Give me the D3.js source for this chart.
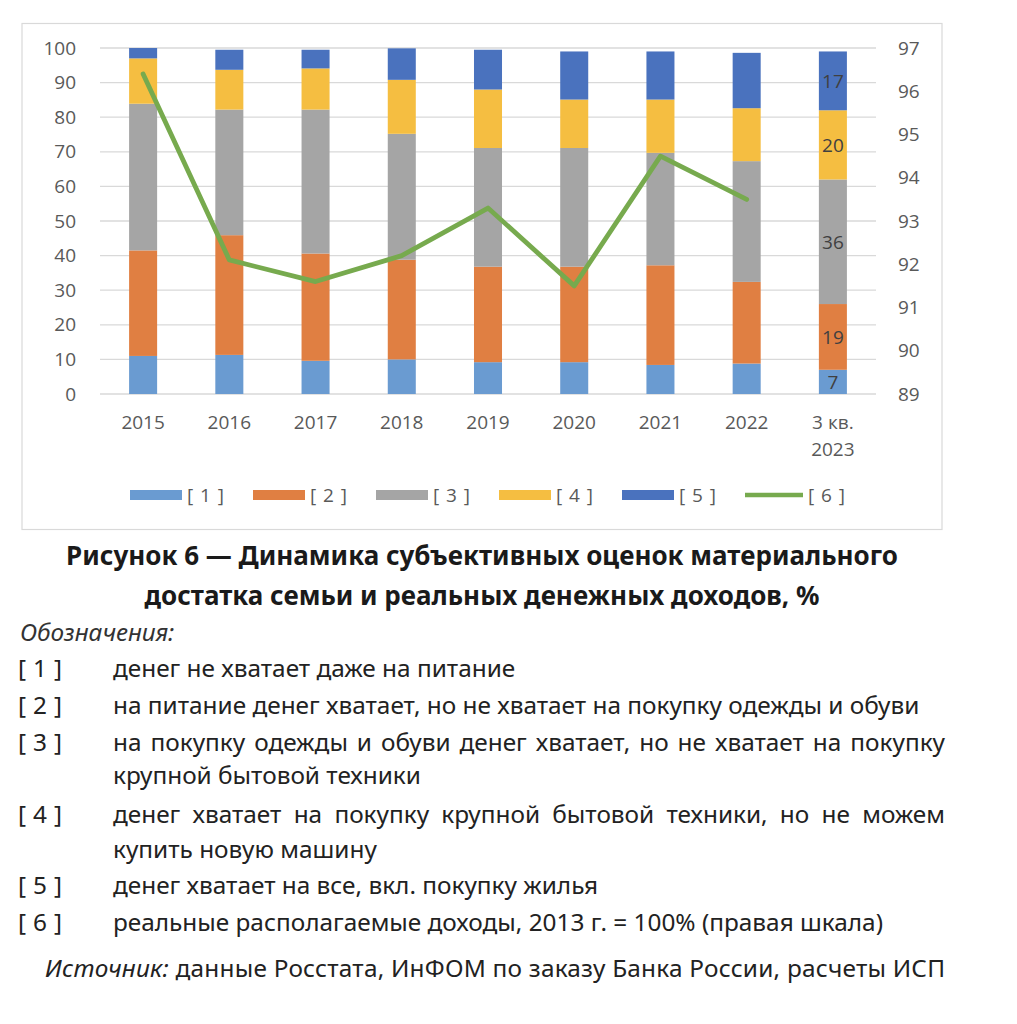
<!DOCTYPE html>
<html><head><meta charset="utf-8">
<script src="https://cdn.jsdelivr.net/npm/d3@7"></script>
<style>body{margin:0;background:#fff}svg{display:block}</style>
</head><body>
<svg id="c" width="1017" height="1024"></svg>
<script>
const categories = ["2015","2016","2017","2018","2019","2020","2021","2022","3 кв.|2023"];
const s1 = [11, 11.3, 9.6, 10, 9.2, 9.2, 8.4, 8.8, 7];
const s2 = [30.5, 34.6, 31, 28.8, 27.6, 27.6, 28.8, 23.6, 19];
const s3 = [42.4, 36.3, 41.6, 36.4, 34.3, 34.3, 32.5, 34.9, 36];
const s4 = [13.1, 11.5, 11.9, 15.6, 16.9, 14, 15.4, 15.3, 20];
const s5 = [3, 5.8, 5.4, 9.1, 11.5, 13.9, 13.9, 16, 17];
const income = [96.4, 92.1, 91.6, 92.2, 93.3, 91.5, 94.5, 93.5, null];
const seriesNames = ["[ 1 ]","[ 2 ]","[ 3 ]","[ 4 ]","[ 5 ]","[ 6 ]"];
const colors = ["#6A9BD1","#E07F42","#A5A5A5","#F5BE41","#4A72BE","#77AA4E"];
const leftTicks = [0,10,20,30,40,50,60,70,80,90,100];
const rightTicks = [89,90,91,92,93,94,95,96,97];
const labelIndex = 8;
const title = ["Рисунок 6 — Динамика субъективных оценок материального","достатка семьи и реальных денежных доходов, %"];
const notesHead = "Обозначения:";
const notes = [
  ["[ 1 ]", ["денег не хватает даже на питание"]],
  ["[ 2 ]", ["на питание денег хватает, но не хватает на покупку одежды и обуви"]],
  ["[ 3 ]", ["на покупку одежды и обуви денег хватает, но не хватает на покупку", "крупной бытовой техники"]],
  ["[ 4 ]", ["денег хватает на покупку крупной бытовой техники, но не можем", "купить новую машину"]],
  ["[ 5 ]", ["денег хватает на все, вкл. покупку жилья"]],
  ["[ 6 ]", ["реальные располагаемые доходы, 2013 г. = 100% (правая шкала)"]]
];
const sourceLabel = "Источник:";
const sourceText = " данные Росстата, ИнФОМ по заказу Банка России, расчеты ИСП";

const svg = d3.select("#c");
const axisFont = "'Open Sans', sans-serif";
const txtCol = "#595959";
const tickSize = 19;

// frame
svg.append("rect").attr("x",22).attr("y",23.5).attr("width",920).attr("height",506)
  .attr("fill","#fff").attr("stroke","#D9D9D9").attr("stroke-width",1.2);

const x = d3.scaleBand().domain(categories).range([100,876]).paddingInner(0.675).paddingOuter(0.3375);
const yL = d3.scaleLinear().domain([0,100]).range([394,48]);
const yR = d3.scaleLinear().domain([89,97]).range([394,48]);

// grid
svg.append("g").selectAll("line").data(leftTicks).join("line")
  .attr("x1",100).attr("x2",876).attr("y1",d=>yL(d)).attr("y2",d=>yL(d))
  .attr("stroke","#D9D9D9").attr("stroke-width",1.3);

// left axis
const gl = svg.append("g").attr("transform","translate(76,0)")
  .call(d3.axisLeft(yL).tickValues(leftTicks).tickSize(0).tickPadding(0));
gl.select(".domain").remove();
gl.selectAll("text").attr("font-family",axisFont).attr("font-size",tickSize).attr("fill",txtCol);

const gr = svg.append("g").attr("transform","translate(898,0)")
  .call(d3.axisRight(yR).tickValues(rightTicks).tickSize(0).tickPadding(0));
gr.select(".domain").remove();
gr.selectAll("text").attr("font-family",axisFont).attr("font-size",tickSize).attr("fill",txtCol);

// stacked bars
const data = categories.map((c,i)=>({cat:c, s1:s1[i], s2:s2[i], s3:s3[i], s4:s4[i], s5:s5[i]}));
const keys = ["s1","s2","s3","s4","s5"];
const stacked = d3.stack().keys(keys)(data);
const gb = svg.append("g");
stacked.forEach((layer,k)=>{
  gb.append("g").selectAll("rect").data(layer).join("rect")
    .attr("x",d=>x(d.data.cat)).attr("width",x.bandwidth())
    .attr("y",d=>yL(d[1])).attr("height",d=>yL(d[0])-yL(d[1]))
    .attr("fill",colors[k]);
});
// data labels on last bar
stacked.forEach((layer,k)=>{
  const d = layer[labelIndex];
  svg.append("text").attr("x",x(d.data.cat)+x.bandwidth()/2).attr("y",(yL(d[0])+yL(d[1]))/2)
    .attr("dy","0.36em").attr("text-anchor","middle")
    .attr("font-family",axisFont).attr("font-size",tickSize).attr("fill","#404040")
    .text(d3.format(".0f")(d.data[keys[k]]));
});

// line
const line = d3.line().defined(d=>d.v!=null)
  .x(d=>x(d.cat)+x.bandwidth()/2).y(d=>yR(d.v));
svg.append("path").datum(categories.map((c,i)=>({cat:c,v:income[i]})))
  .attr("d",line).attr("fill","none").attr("stroke",colors[5]).attr("stroke-width",4.8)
  .attr("stroke-linejoin","round").attr("stroke-linecap","round");

// x labels
const gx = svg.append("g");
categories.forEach(c=>{
  const parts = c.split("|");
  const t = gx.append("text").attr("x",x(c)+x.bandwidth()/2).attr("y",429)
    .attr("text-anchor","middle").attr("font-family",axisFont).attr("font-size",tickSize).attr("fill",txtCol);
  parts.forEach((p,j)=>t.append("tspan").attr("x",x(c)+x.bandwidth()/2).attr("dy",j?27:0).text(p));
});

// legend
let lx = 130;
const ly = 495;
seriesNames.forEach((n,i)=>{
  if(i<5){
    svg.append("rect").attr("x",lx).attr("y",ly-5).attr("width",52).attr("height",10).attr("fill",colors[i]);
  } else {
    svg.append("line").attr("x1",lx).attr("x2",lx+58).attr("y1",ly).attr("y2",ly)
      .attr("stroke",colors[5]).attr("stroke-width",4.5);
  }
  const t = svg.append("text").attr("x",lx+(i<5?57:63)).attr("y",ly).attr("dy","0.35em")
    .attr("font-family",axisFont).attr("font-size",19).attr("fill",txtCol)
    .attr("textLength",37).attr("lengthAdjust","spacing").text(n);
  lx += (i<5?57:63) + 37 + 29;
});

// helpers
const bodyFont = "'Noto Sans', sans-serif";
function fitSize(str, weight, style, target, fam){
  const t = svg.append("text").attr("font-family",fam).attr("font-size",100)
    .attr("font-weight",weight).attr("font-style",style).text(str);
  const w = t.node().getComputedTextLength(); t.remove();
  return 100*target/w;
}

// title
const ts = fitSize(title[0],"bold","normal",832,bodyFont);
title.forEach((l,i)=>{
  svg.append("text").attr("x",482).attr("y",i?605:565).attr("text-anchor","middle")
    .attr("font-family",bodyFont).attr("font-weight","bold").attr("font-size",ts)
    .attr("fill","#1a1a1a").text(l);
});

// notes
const bs = (fitSize(notes[1][1][0],"normal","normal",807,bodyFont)+fitSize(notes[5][1][0],"normal","normal",770,bodyFont))/2;
svg.append("text").attr("x",20).attr("y",641).attr("font-family",bodyFont).attr("font-style","italic")
  .attr("font-size",bs).attr("fill","#333").text(notesHead);
const rowY = [[677],[714],[751,784],[823,858],[894],[931]];
const justifyW = 832;
notes.forEach((n,i)=>{
  svg.append("text").attr("x",18).attr("y",rowY[i][0]).attr("font-family",bodyFont)
    .attr("font-size",bs).attr("fill","#222").attr("textLength",44).attr("lengthAdjust","spacing").text(n[0]);
  n[1].forEach((l,j)=>{
    const justify = n[1].length>1 && j===0;
    if(!justify){
      svg.append("text").attr("x",113).attr("y",rowY[i][j]).attr("font-family",bodyFont)
        .attr("font-size",bs).attr("fill","#222").text(l);
    } else {
      const words = l.split(" ");
      const ws = words.map(w=>{
        const t = svg.append("text").attr("font-family",bodyFont).attr("font-size",bs).text(w);
        const wl = t.node().getComputedTextLength(); t.remove(); return wl;});
      const gap = (justifyW - d3.sum(ws))/(words.length-1);
      let cx = 113;
      words.forEach((w,k)=>{
        svg.append("text").attr("x",cx).attr("y",rowY[i][j]).attr("font-family",bodyFont)
          .attr("font-size",bs).attr("fill","#222").text(w);
        cx += ws[k]+gap;
      });
    }
  });
});
// source
const st = svg.append("text").attr("x",45).attr("y",977).attr("font-family",bodyFont)
  .attr("font-size",bs).attr("fill","#222").attr("textLength",900).attr("lengthAdjust","spacing");
st.append("tspan").attr("font-style","italic").text(sourceLabel);
st.append("tspan").text(sourceText);
</script>
</body></html>
